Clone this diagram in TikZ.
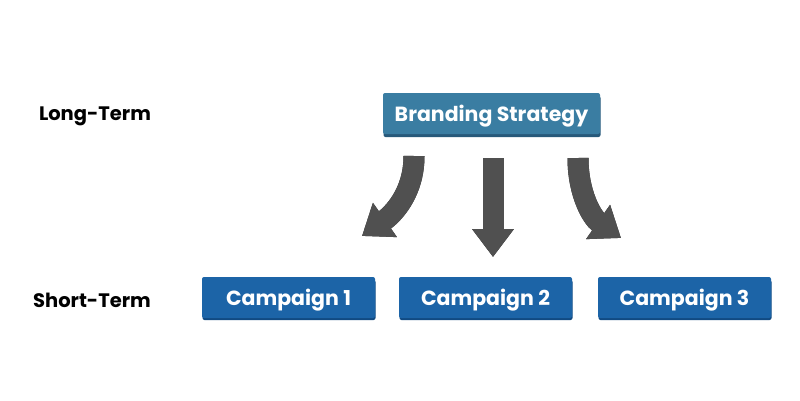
\documentclass[tikz,border=0pt]{standalone}
\usepackage{fontspec}
\setmainfont{Poppins}
\usetikzlibrary{arrows.meta}
\definecolor{brandc}{HTML}{3A7DA2}
\definecolor{brands}{HTML}{27597A}
\definecolor{campc}{HTML}{1C64A7}
\definecolor{camps}{HTML}{114A82}
\definecolor{arrc}{HTML}{505050}
\definecolor{arrs}{HTML}{2E2E2E}
\tikzset{
  boxbase/.style={minimum height=41pt, inner sep=0pt, rounded corners=2pt, text=white,
    text height=17pt, text depth=2pt,
    font=\fontsize{20.5}{24}\selectfont\bfseries},
  brandbox/.style={boxbase, fill=brandc, minimum width=217pt},
  campbox/.style={boxbase, fill=campc, minimum width=173pt},
  termlabel/.style={font=\fontsize{19.5}{23}\selectfont\bfseries, text=black},
  bigarrow/.style={line width=21pt, draw=arrc, -{Triangle[width=40pt,length=28pt]}},
  bigshadow/.style={line width=21pt, draw=arrs, -{Triangle[width=40pt,length=28pt]}},
}
\begin{document}
\begin{tikzpicture}[x=1pt,y=-1pt]
\useasboundingbox[fill=white] (0,0) rectangle (800,400);
% labels
\node[termlabel] (lt) at (95,116) {Long-Term};
\node[termlabel] (st) at (92,300) {Short-Term};
% shadows of boxes
\fill[brands, rounded corners=2pt] (383.5,96) rectangle (600.5,137);
\fill[camps, rounded corners=2pt] (202.5,280) rectangle (375.5,320);
\fill[camps, rounded corners=2pt] (399.5,280) rectangle (572.5,320);
\fill[camps, rounded corners=2pt] (598.5,280) rectangle (771.5,320);
% boxes
\node[brandbox] (bs) at (491.5,113.5) {Branding Strategy};
\node[campbox] (c1) at (288.5,297.5) {Campaign 1};
\node[campbox] (c2) at (485.5,297.5) {Campaign 2};
\node[campbox] (c3) at (684.5,297.5) {Campaign 3};
% arrow anchor coordinates
\coordinate (l0) at (414,156);
\coordinate (l1) at (362,236);
\coordinate (m0) at (493,158);
\coordinate (m1) at (493,257);
\coordinate (r0) at (578,158);
\coordinate (r1) at (621,238);
% arrow shadows
\begin{scope}[shift={(-4,2)}]
\draw[bigshadow] (l0) to[out=-90,in=35] (l1);
\draw[bigshadow] (m0) -- (m1);
\draw[bigshadow] (r0) to[out=-90,in=145] (r1);
\end{scope}
% arrows
\draw[bigarrow] (l0) to[out=-90,in=35] (l1);
\draw[bigarrow] (m0) -- (m1);
\draw[bigarrow] (r0) to[out=-90,in=145] (r1);
\end{tikzpicture}
\end{document}
